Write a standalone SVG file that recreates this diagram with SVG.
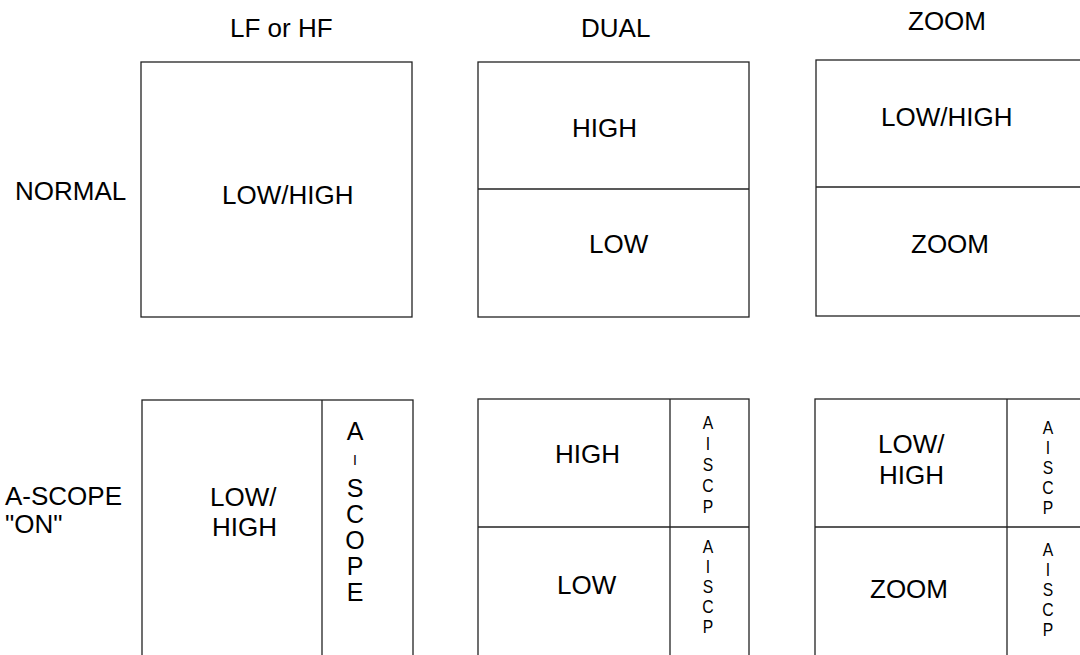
<svg xmlns="http://www.w3.org/2000/svg" width="1080" height="655" viewBox="0 0 1080 655">
<style>
.b{fill:none;stroke:#222;stroke-width:1.3}
.l{stroke:#222;stroke-width:1.3}
text{font-family:"Liberation Sans",Arial,sans-serif;fill:#000}
.t{font-size:26px}
.h{font-size:26px}
.v{font-size:18.5px;text-anchor:middle}
.vb{font-size:25px;text-anchor:middle}
</style>
<rect width="1080" height="655" fill="#fff"/>
<g id="headers">
<text class="h" x="230" y="37">LF or HF</text>
<text class="h" x="581" y="37">DUAL</text>
<text class="h" x="908" y="30">ZOOM</text>
</g>
<g id="row-labels">
<text class="h" x="15" y="200">NORMAL</text>
<text class="h" x="5" y="505">A-SCOPE</text>
<text class="h" x="5" y="533">"ON"</text>
</g>
<g id="normal-lf">
<rect class="b" x="141" y="62" width="271" height="255"/>
<text class="t" x="222" y="204">LOW/HIGH</text>
</g>
<g id="normal-dual">
<rect class="b" x="478" y="62" width="271" height="255"/>
<line class="l" x1="478" y1="189" x2="749" y2="189"/>
<text class="t" x="572" y="137">HIGH</text>
<text class="t" x="589" y="253">LOW</text>
</g>
<g id="normal-zoom">
<rect class="b" x="816" y="60" width="270" height="256"/>
<line class="l" x1="816" y1="187" x2="1080" y2="187"/>
<text class="t" x="881" y="126">LOW/HIGH</text>
<text class="t" x="911" y="253">ZOOM</text>
</g>
<g id="ascope-lf">
<rect class="b" x="142" y="400" width="271" height="270"/>
<line class="l" x1="322" y1="400" x2="322" y2="655"/>
<text class="t" x="210" y="506">LOW/</text>
<text class="t" x="212" y="536">HIGH</text>
<text class="vb"><tspan x="355" y="440">A</tspan><tspan x="355" y="465" style="font-size:14px">I</tspan><tspan x="355" y="497">S</tspan><tspan x="355" y="523">C</tspan><tspan x="355" y="549">O</tspan><tspan x="355" y="575">P</tspan><tspan x="355" y="601">E</tspan></text>
</g>
<g id="ascope-dual">
<rect class="b" x="478" y="399" width="271" height="270"/>
<line class="l" x1="670" y1="399" x2="670" y2="655"/>
<line class="l" x1="478" y1="527" x2="749" y2="527"/>
<text class="t" x="555" y="463">HIGH</text>
<text class="t" x="557" y="594">LOW</text>
<g transform="translate(708,0) scale(0.85,1)">
<text class="v"><tspan x="0" y="429">A</tspan><tspan x="0" y="450">I</tspan><tspan x="0" y="471">S</tspan><tspan x="0" y="492">C</tspan><tspan x="0" y="513">P</tspan></text>
<text class="v"><tspan x="0" y="553">A</tspan><tspan x="0" y="573">I</tspan><tspan x="0" y="593">S</tspan><tspan x="0" y="613">C</tspan><tspan x="0" y="633">P</tspan></text>
</g>
</g>
<g id="ascope-zoom">
<rect class="b" x="815" y="399" width="275" height="270"/>
<line class="l" x1="1007" y1="399" x2="1007" y2="655"/>
<line class="l" x1="815" y1="527" x2="1080" y2="527"/>
<text class="t" x="878" y="453">LOW/</text>
<text class="t" x="879" y="484">HIGH</text>
<text class="t" x="870" y="598">ZOOM</text>
<g transform="translate(1048,0) scale(0.85,1)">
<text class="v"><tspan x="0" y="434">A</tspan><tspan x="0" y="454">I</tspan><tspan x="0" y="474">S</tspan><tspan x="0" y="494">C</tspan><tspan x="0" y="514">P</tspan></text>
<text class="v"><tspan x="0" y="556">A</tspan><tspan x="0" y="576">I</tspan><tspan x="0" y="596">S</tspan><tspan x="0" y="616">C</tspan><tspan x="0" y="636">P</tspan></text>
</g>
</g>
</svg>
